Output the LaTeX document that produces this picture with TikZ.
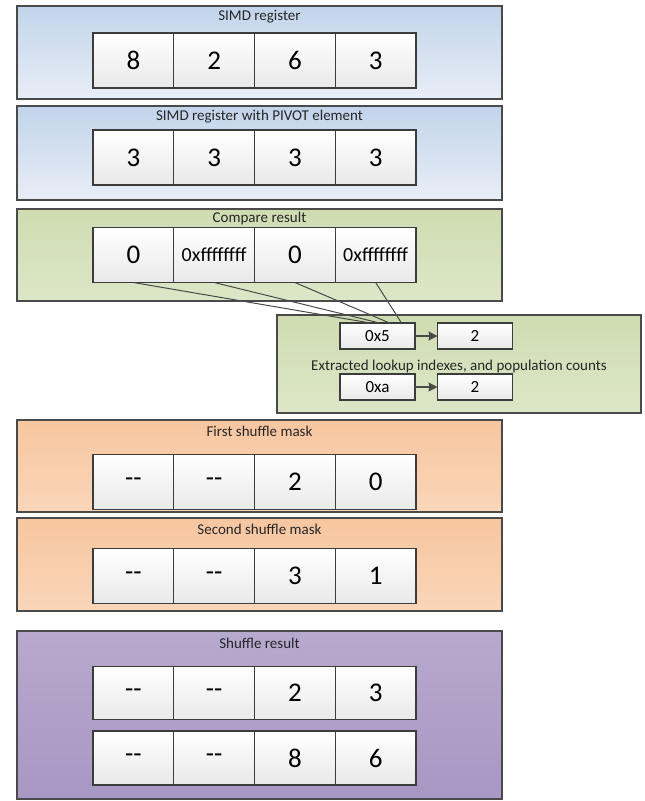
\documentclass[tikz,border=0pt]{standalone}
\usepackage{fontspec}
\setmainfont{Carlito}
\usetikzlibrary{positioning,arrows.meta}

\definecolor{boxline}{HTML}{4A4A4A}
\definecolor{cellline}{HTML}{3C3C3C}
\definecolor{cellgray}{HTML}{E9E9E9}
\definecolor{bluetop}{HTML}{C2D4EB}
\definecolor{bluebot}{HTML}{E8EEF6}
\definecolor{greentop}{HTML}{CFDCB1}
\definecolor{greenbot}{HTML}{DDE7C8}
\definecolor{orangetop}{HTML}{F7C6A0}
\definecolor{orangebot}{HTML}{FAD6B9}
\definecolor{purpletop}{HTML}{B8A9CF}
\definecolor{purplebot}{HTML}{A797C3}

\begin{document}
\begin{tikzpicture}[x=1pt,y=-1pt,>={Stealth[length=9pt,width=9pt,inset=1pt]},
    panel/.style={rectangle,draw=boxline,line width=1.3pt,minimum width=485pt},
    blue panel/.style={panel,top color=bluetop,bottom color=bluebot},
    green panel/.style={panel,top color=greentop,bottom color=greenbot},
    orange panel/.style={panel,top color=orangetop,bottom color=orangebot},
    purple panel/.style={panel,top color=purpletop,bottom color=purplebot},
    title/.style={font=\fontsize{15}{18}\selectfont,text=black!85},
    cell/.style={rectangle,draw=cellline,line width=1.1pt,top color=white,bottom color=cellgray,
                 minimum width=80.75pt,minimum height=55pt,inner sep=0pt,outer sep=0pt,
                 font=\fontsize{27}{32}\selectfont},
    hex/.style={cell,font=\fontsize{20}{24}\selectfont},
    small cell/.style={cell,minimum width=75pt,minimum height=26pt,font=\fontsize{17}{20}\selectfont}]
    \useasboundingbox (0,0) rectangle (645,801);

    % background panels
    \node[blue panel,minimum height=93pt] (p1) at (259.5,52.5) {};
    \node[blue panel,minimum height=94pt] (p2) at (259.5,153) {};
    \node[green panel,minimum height=92pt] (p3) at (259.5,255) {};
    \node[green panel,minimum width=364pt,minimum height=98pt] (p4) at (459,364) {};
    \node[orange panel,minimum height=92pt] (p5) at (259.5,466) {};
    \node[orange panel,minimum height=93pt] (p6) at (259.5,564.5) {};
    \node[purple panel,minimum height=168pt] (p7) at (259.5,715) {};

    \node[title] (t1) at (259.5,17) {SIMD register};
    \node[title] (t2) at (259.5,117) {SIMD register with PIVOT element};
    \node[title] (t3) at (259.5,218) {Compare result};
    \node[title] (t4) at (459,366) {Extracted lookup indexes, and population counts};
    \node[title] (t5) at (259.5,431) {First shuffle mask};
    \node[title] (t6) at (259.5,529) {Second shuffle mask};
    \node[title] (t7) at (259.5,643) {Shuffle result};

    % registers
    \node[cell] (a1) at (133.4,60.5) {8};
    \node[cell,right=0pt of a1] (a2) {2};
    \node[cell,right=0pt of a2] (a3) {6};
    \node[cell,right=0pt of a3] (a4) {3};

    \node[cell] (b1) at (133.4,157.5) {3};
    \node[cell,right=0pt of b1] (b2) {3};
    \node[cell,right=0pt of b2] (b3) {3};
    \node[cell,right=0pt of b3] (b4) {3};

    \node[cell] (c1) at (133.4,255) {0};
    \node[hex,right=0pt of c1] (c2) {0xffffffff};
    \node[cell,right=0pt of c2] (c3) {0};
    \node[hex,right=0pt of c3] (c4) {0xffffffff};

    % movemask and popcount
    \node[small cell] (m1) at (377.5,336) {0x5};
    \node[small cell] (n1) at (475,336) {2};
    \node[small cell] (m2) at (377.5,387) {0xa};
    \node[small cell] (n2) at (475,387) {2};

    \draw[line width=1.4pt,boxline,->] (m1) -- (n1);
    \draw[line width=1.4pt,boxline,->] (m2) -- (n2);

    \draw[line width=1pt,boxline]
        (c1.south) -- ([xshift=-7pt]m1.north)
        (c2.south) -- ([xshift=2pt]m1.north)
        (c3.south) -- ([xshift=12pt]m1.north)
        (c4.south) -- ([xshift=24pt]m1.north);

    % shuffle masks
    \node[cell] (f1) at (133.4,482) {{-}{-}};
    \node[cell,right=0pt of f1] (f2) {{-}{-}};
    \node[cell,right=0pt of f2] (f3) {2};
    \node[cell,right=0pt of f3] (f4) {0};

    \node[cell] (s1) at (133.4,576) {{-}{-}};
    \node[cell,right=0pt of s1] (s2) {{-}{-}};
    \node[cell,right=0pt of s2] (s3) {3};
    \node[cell,right=0pt of s3] (s4) {1};

    % result
    \node[cell,minimum height=53pt] (r1) at (133.4,693) {{-}{-}};
    \node[cell,minimum height=53pt,right=0pt of r1] (r2) {{-}{-}};
    \node[cell,minimum height=53pt,right=0pt of r2] (r3) {2};
    \node[cell,minimum height=53pt,right=0pt of r3] (r4) {3};

    \node[cell,minimum height=54pt] (q1) at (133.4,758) {{-}{-}};
    \node[cell,minimum height=54pt,right=0pt of q1] (q2) {{-}{-}};
    \node[cell,minimum height=54pt,right=0pt of q2] (q3) {8};
    \node[cell,minimum height=54pt,right=0pt of q3] (q4) {6};
\end{tikzpicture}
\end{document}
